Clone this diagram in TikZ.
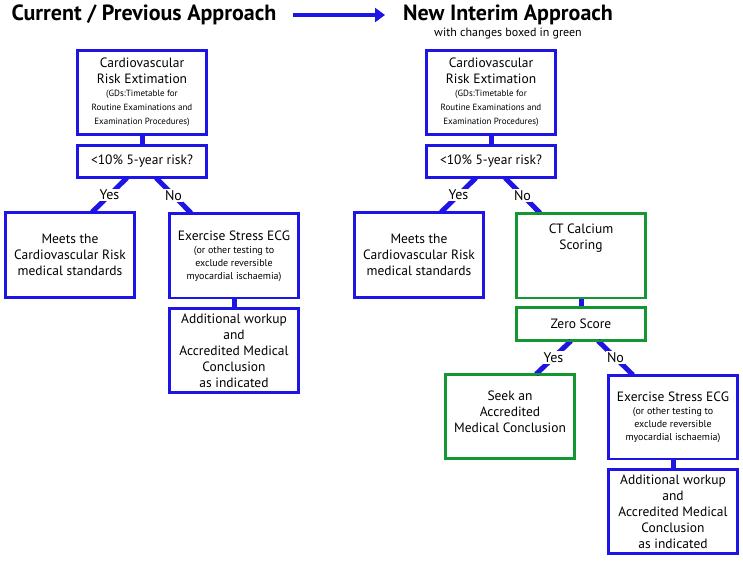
\documentclass[tikz,border=0pt]{standalone}
\usepackage{fontspec}
\setmainfont{PT Sans}
\usetikzlibrary{arrows.meta}
\definecolor{bl}{RGB}{30,20,230}
\definecolor{gr}{RGB}{20,150,50}
\newcommand{\smt}{\fontsize{9}{11}\selectfont}
\newcommand{\mdt}{\fontsize{10}{12}\selectfont}
\begin{document}
\begin{tikzpicture}[x=1pt,y=-1pt,
 box/.style={draw=bl,line width=1.6pt,fill=white,minimum width=128pt,align=center,inner sep=2pt,font=\fontsize{13.5}{16}\selectfont},
 gbox/.style={box,draw=gr},
 con/.style={draw=bl,line width=5pt},
 lab/.style={fill=white,inner sep=1.5pt,font=\fontsize{14}{16}\selectfont}]
\useasboundingbox (0,0) rectangle (743,562);
% nodes left
\node[box,minimum height=83pt] (r1) at (142,92.5) {Cardiovascular\\Risk Extimation\\[-3pt]\smt (GDs:Timetable for\\[-2pt]\smt Routine Examinations and\\[-2pt]\smt Examination Procedures)};
\node[box,minimum height=31pt] (q1) at (142,161.5) {<10\% 5-year risk?};
\node[box,minimum height=84pt] (m1) at (70,255) {Meets the\\Cardiovascular Risk\\medical standards};
\node[box,minimum height=84pt,anchor=north] (e1) at (234,213) {Exercise Stress ECG\\[-3pt]\mdt (or other testing to\\[-3pt]\mdt exclude reversible\\[-3pt]\mdt myocardial ischaemia)};
\node[box,minimum height=83pt] (a1) at (234,350.5) {Additional workup\\and\\Accredited Medical\\Conclusion\\as indicated};
% nodes right
\node[box,minimum height=83pt] (r2) at (491,92.5) {Cardiovascular\\Risk Extimation\\[-3pt]\smt (GDs:Timetable for\\[-2pt]\smt Routine Examinations and\\[-2pt]\smt Examination Procedures)};
\node[box,minimum height=31pt] (q2) at (491,161.5) {<10\% 5-year risk?};
\node[box,minimum height=84pt] (m2) at (419,255) {Meets the\\Cardiovascular Risk\\medical standards};
\node[gbox,minimum height=84pt,text depth=38pt,anchor=north] (c2) at (581,213) {CT Calcium\\Scoring};
\node[gbox,minimum height=32pt] (z2) at (581,324) {Zero Score};
\node[gbox,minimum height=83pt,text depth=10pt] (s2) at (510,416.5) {Seek an\\Accredited\\Medical Conclusion};
\node[box,minimum height=83pt,anchor=north] (e2) at (673,375) {Exercise Stress ECG\\[-3pt]\mdt (or other testing to\\[-3pt]\mdt exclude reversible\\[-3pt]\mdt myocardial ischaemia)};
\node[box,minimum height=83pt] (a2) at (673,511.5) {Additional workup\\and\\Accredited Medical\\Conclusion\\as indicated};
% connectors
\draw[con] (r1) -- (q1);
\draw[con] (q1.south -| 127,0) -- (m1.north -| 92,0) node[lab,midway] {Yes};
\draw[con] (q1.south -| 156,0) -- (e1.north -| 191,0) node[lab,midway] {No};
\draw[con] (e1) -- (a1);
\draw[con] (r2) -- (q2);
\draw[con] (q2.south -| 476,0) -- (m2.north -| 441,0) node[lab,midway] {Yes};
\draw[con] (q2.south -| 505,0) -- (c2.north -| 540,0) node[lab,midway] {No};
\draw[con] (c2) -- (z2);
\draw[con] (z2.south -| 571,0) -- (s2.north -| 536,0) node[lab,midway] {Yes};
\draw[con] (z2.south -| 598,0) -- (e2.north -| 633,0) node[lab,midway] {No};
\draw[con] (e2) -- (a2);
% redraw box borders on top
\foreach \n in {r1,q1,m1,e1,a1,r2,q2,m2,e2,a2}{\draw[bl,line width=1.6pt] (\n.north west) rectangle (\n.south east);}
\foreach \n in {c2,z2,s2}{\draw[gr,line width=1.6pt] (\n.north west) rectangle (\n.south east);}
% titles
\node[font=\fontsize{22}{26}\selectfont\bfseries,anchor=west] (t1) at (8,15) {Current / Previous Approach};
\node[font=\fontsize{22}{26}\selectfont\bfseries] (t2) at (508,15) {New Interim Approach};
\node[font=\fontsize{12}{14}\selectfont] (t3) at (508,34) {with changes boxed in green};
\coordinate (as) at (293,15); \coordinate (ae) at (385,15);
\draw[bl,line width=4pt,-{Triangle[length=10pt,width=14pt]}] (as) -- (ae);
\end{tikzpicture}
\end{document}
